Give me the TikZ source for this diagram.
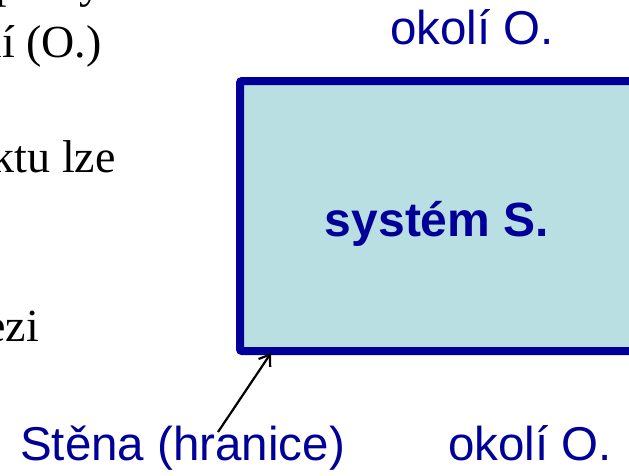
\documentclass[tikz,border=0pt]{standalone}
\usepackage{fontspec}
\setmainfont{Liberation Serif}
\newfontfamily\arialfont{Liberation Sans}
\usetikzlibrary{arrows.meta}
\definecolor{wallblue}{HTML}{000099}
\definecolor{sysfill}{HTML}{B9DFE2}
\tikzset{
  bodytext/.style={inner sep=0pt, font=\fontsize{46}{55}\selectfont, text=black},
  bluelabel/.style={inner sep=0pt, font=\arialfont\fontsize{47.5}{57}\selectfont, text=wallblue},
  wall/.style={draw=wallblue, fill=sysfill, line width=8pt, rounded corners=2pt},
  pointer/.style={draw=black, line width=2.2pt, -{Straight Barb[length=10pt,width=14pt,line width=2.2pt]}}
}
\begin{document}
\begin{tikzpicture}[x=1pt, y=-1pt]
  \useasboundingbox (0,0) rectangle (629,475);
  \clip (0,0) rectangle (629,475);
  \fill[white] (0,0) rectangle (629,475);

  % running text of the slide, cut at the left edge
  \node[bodytext, anchor=base east] (t1) at (103,-3) {prvky};
  \node[bodytext, anchor=base east] (t2) at (102,57) {okolí (O.)};
  \node[bodytext, anchor=base east] (t3) at (116,172) {objektu lze};
  \node[bodytext, anchor=base east] (t4) at (39,341) {mezi};

  % the system with its wall
  \draw[wall] (240,81) rectangle (660,351);
  \node[bluelabel, font=\arialfont\bfseries\fontsize{48}{57}\selectfont, anchor=base] (sys) at (437,236) {systém S.};

  % surroundings and wall labels
  \node[bluelabel, anchor=base west] (oktop) at (390,44) {okolí O.};
  \node[bluelabel, anchor=base west] (okbot) at (448,460) {okolí O.};
  \node[bluelabel, anchor=base west] (stena) at (20,460) {Stěna (hranice)};

  \coordinate (tail) at (218,432);
  \coordinate (wallpt) at (271,353);
  \draw[pointer] (tail) -- (wallpt);
\end{tikzpicture}
\end{document}
